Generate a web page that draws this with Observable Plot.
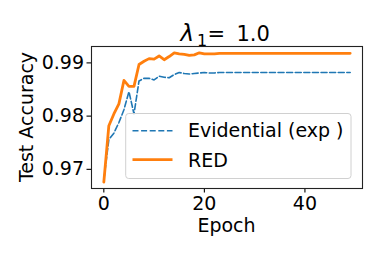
<!DOCTYPE html>
<html>
<head>
<meta charset="utf-8">
<script src="https://cdn.jsdelivr.net/npm/d3@7"></script>
<script src="https://cdn.jsdelivr.net/npm/@observablehq/plot@0.6"></script>
<style>
  html, body { margin: 0; padding: 0; background: #fff; }
  svg { display: block; }
</style>
</head>
<body>
<div id="chart"></div>
<script>
const epochs = [0,1,2,3,4,5,6,7,8,9,10,11,12,13,14,15,16,17,18,19,20,21,22,23,24,25,26,27,28,29,30,31,32,33,34,35,36,37,38,39,40,41,42,43,44,45,46,47,48,49];
const evidential = [0.9680,0.9756,0.9768,0.9788,0.9812,0.9846,0.9804,0.9866,0.9871,0.9871,0.9868,0.9875,0.9873,0.9872,0.9878,0.9882,0.9880,0.9879,0.9880,0.9881,0.9882,0.9881,0.9881,0.9882,0.9882,0.9882,0.9882,0.9882,0.9882,0.9882,0.9882,0.9882,0.9882,0.9882,0.9882,0.9882,0.9882,0.9882,0.9882,0.9882,0.9882,0.9882,0.9882,0.9882,0.9882,0.9882,0.9882,0.9882,0.9882,0.9882];
const red = [0.9676,0.9782,0.9804,0.9823,0.9867,0.9856,0.9856,0.9897,0.9903,0.9908,0.9907,0.9913,0.9906,0.9912,0.9919,0.9917,0.9916,0.9914,0.9915,0.9919,0.9917,0.9917,0.9917,0.9918,0.9918,0.9918,0.9918,0.9918,0.9918,0.9918,0.9918,0.9918,0.9918,0.9918,0.9918,0.9918,0.9918,0.9918,0.9918,0.9918,0.9918,0.9918,0.9918,0.9918,0.9918,0.9918,0.9918,0.9918,0.9918,0.9918];
const xTicks = [0, 20, 40];
const yTicks = [0.97, 0.98, 0.99];
const seriesNames = ["Evidential (exp )", "RED"];
const seriesColors = ["#1f77b4", "#ff7f0e"];

const evData = epochs.map((e, i) => ({epoch: e, acc: evidential[i]}));
const redData = epochs.map((e, i) => ({epoch: e, acc: red[i]}));

const FONT = "DejaVu Sans, sans-serif";
const FS = 19;

const plot = Plot.plot({
  width: 382,
  height: 255,
  marginLeft: 91,
  marginRight: 20,
  marginTop: 46,
  marginBottom: 67,
  style: {fontFamily: FONT, fontSize: FS + "px", background: "#fff", color: "#000"},
  x: {domain: [-2.45, 51.45]},
  y: {domain: [0.96640, 0.99308]},
  marks: [
    Plot.line(evData, {x: "epoch", y: "acc", stroke: seriesColors[0], strokeWidth: 1.6, strokeDasharray: "6,2.6"}),
    Plot.line(redData, {x: "epoch", y: "acc", stroke: seriesColors[1], strokeWidth: 2.8}),
    Plot.axisX({ticks: xTicks, tickSize: 4.5, tickPadding: 3, label: null, fontSize: FS, strokeWidth: 1.1}),
    Plot.axisY({ticks: yTicks, tickFormat: d3.format(".2f"), tickSize: 4.5, tickPadding: 3, label: null, fontSize: FS, strokeWidth: 1.1}),
    Plot.frame({stroke: "#222", strokeWidth: 1.1})
  ]
});
document.getElementById("chart").appendChild(plot);

const svg = d3.select(plot);
const frameLeft = 91, frameRight = 362, frameTop = 46, frameBottom = 188;
const cx = (frameLeft + frameRight) / 2;

// Title (λ₁= 1.0)
const title = svg.append("text")
  .attr("y", 41)
  .attr("text-anchor", "start")
  .attr("font-family", FONT).attr("font-size", 21).attr("fill", "#000");
title.append("tspan").attr("x", 180.5).attr("font-style", "italic").attr("font-size", 23).text("λ");
title.append("tspan").attr("x", 197).attr("y", 46).attr("font-size", 16).text("1");
title.append("tspan").attr("x", 207.5).attr("y", 41).text("=");
title.append("tspan").attr("x", 236.5).attr("y", 41).text("1.0");

// Axis labels
svg.append("text")
  .attr("x", cx).attr("y", 232)
  .attr("text-anchor", "middle")
  .attr("font-family", FONT).attr("font-size", FS).attr("fill", "#000")
  .text("Epoch");
svg.append("text")
  .attr("transform", `translate(32.5,${(frameTop + frameBottom) / 2}) rotate(-90)`)
  .attr("text-anchor", "middle")
  .attr("font-family", FONT).attr("font-size", FS).attr("fill", "#000")
  .text("Test Accuracy");

// Legend
const lg = svg.append("g").attr("text-anchor", "start");
lg.append("rect")
  .attr("x", 125.7).attr("y", 113.5).attr("width", 225.3).attr("height", 65)
  .attr("rx", 3).attr("fill", "#fff").attr("fill-opacity", 0.8)
  .attr("stroke", "#d0d0d0").attr("stroke-width", 1);
const rows = [130.7, 159.7];
const baselines = [137, 167];
seriesNames.forEach((name, i) => {
  lg.append("line")
    .attr("x1", 132.5).attr("x2", 172.5).attr("y1", rows[i]).attr("y2", rows[i])
    .attr("stroke", seriesColors[i])
    .attr("stroke-width", i === 0 ? 1.6 : 2.8)
    .attr("stroke-dasharray", i === 0 ? "6,2.6" : null);
  lg.append("text")
    .attr("x", 188).attr("y", baselines[i])
    .attr("text-anchor", "start")
    .attr("font-family", FONT).attr("font-size", FS).attr("fill", "#000")
    .text(name);
});
</script>
</body>
</html>
